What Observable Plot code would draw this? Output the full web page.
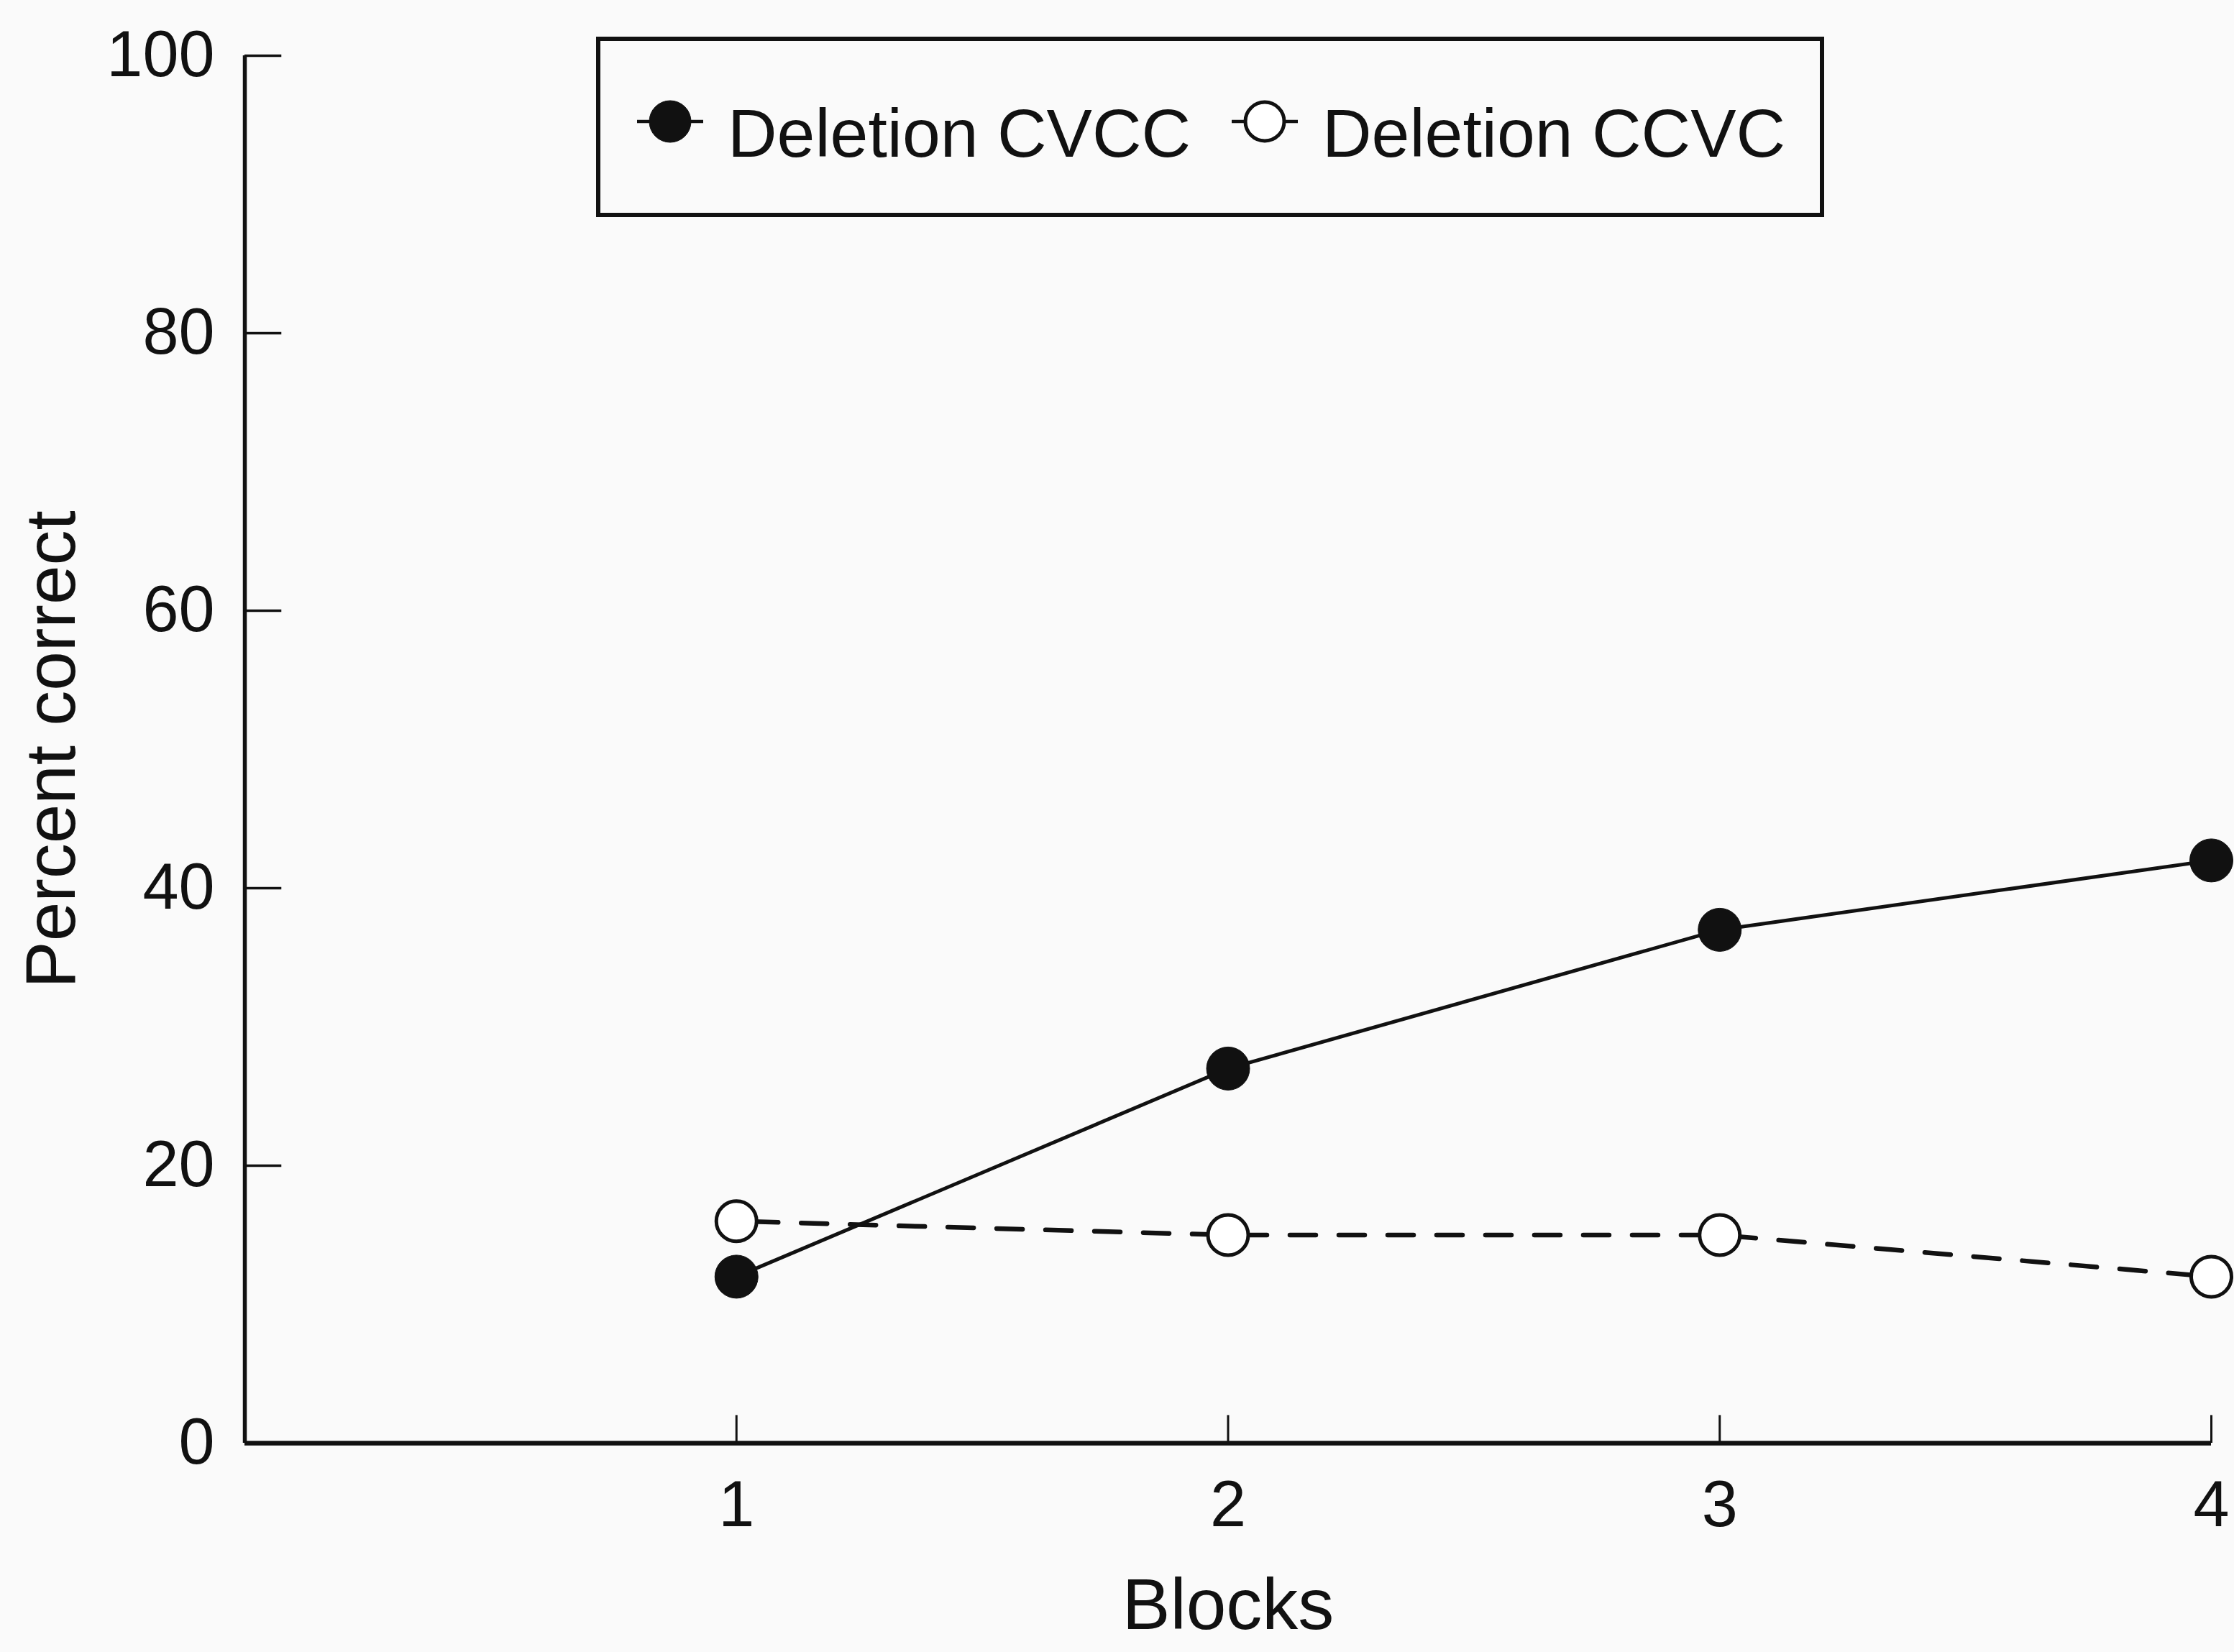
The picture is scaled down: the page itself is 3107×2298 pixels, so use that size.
<!DOCTYPE html>
<html>
<head>
<meta charset="utf-8">
<script src="https://cdn.jsdelivr.net/npm/d3@7"></script>
<script src="https://cdn.jsdelivr.net/npm/@observablehq/plot@0.6"></script>
<style>
  html, body { margin: 0; padding: 0; background: #fafafa; }
  #wrap { position: relative; width: 3107px; height: 2298px; overflow: hidden; }
  #legend { position: absolute; left: 0; top: 0; }
</style>
</head>
<body>
<div id="wrap"></div>
<script>
// ---- data ----
const blocks = [1, 2, 3, 4];
const cvccValues = [12, 27, 37, 42];   // Deletion CVCC (filled circles, solid line)
const ccvcValues = [16, 15, 15, 12];   // Deletion CCVC (open circles, dashed line)
const seriesNames = ["Deletion CVCC", "Deletion CCVC"];
const yTicks = [0, 20, 40, 60, 80, 100];
const xTicks = [1, 2, 3, 4];
const xLabel = "Blocks";
const yLabel = "Percent correct";

const cvcc = blocks.map((b, i) => ({block: b, value: cvccValues[i]}));
const ccvc = blocks.map((b, i) => ({block: b, value: ccvcValues[i]}));

const ink = "#111";
const font = "'Liberation Sans', Arial, Helvetica, sans-serif";

const chart = Plot.plot({
  width: 3107,
  height: 2298,
  marginLeft: 340,
  marginRight: 32,
  marginTop: 77,
  marginBottom: 291,
  style: {background: "transparent", fontFamily: font, color: ink},
  x: {domain: [0, 4]},
  y: {domain: [0, 100]},
  marks: [
    // tick text only; inward ticks drawn separately
    Plot.axisY({ticks: yTicks, tickFormat: d3.format("d"), tickSize: 0, tickPadding: 42, fontSize: 90, label: null}),
    Plot.axisX({ticks: xTicks, tickFormat: d3.format("d"), tickSize: 0, tickPadding: 52, fontSize: 90, label: null}),
    // inward ticks
    Plot.ruleY(yTicks.filter(d => d > 0), {y: d => d, x1: 0, x2: 0.075, stroke: ink, strokeWidth: 3.5}),
    Plot.ruleX(xTicks, {x: d => d, y1: 0, y2: 2, stroke: ink, strokeWidth: 3}),
    // axis lines
    Plot.ruleX([0], {y1: 0, y2: 100, stroke: ink, strokeWidth: 5.5}),
    Plot.ruleY([0], {x1: 0, x2: 4, stroke: ink, strokeWidth: 6.5}),
    // axis titles
    Plot.text([yLabel], {frameAnchor: "left", dx: -268, rotate: -90, fontSize: 98, fill: ink, textAnchor: "middle", lineAnchor: "middle"}),
    Plot.text([xLabel], {frameAnchor: "bottom", dy: 226, fontSize: 100, fill: ink, textAnchor: "middle", lineAnchor: "middle"}),
    // series
    Plot.line(ccvc, {x: "block", y: "value", stroke: ink, strokeWidth: 6.5, strokeDasharray: "36,32", strokeDashoffset: -22}),
    Plot.line(cvcc, {x: "block", y: "value", stroke: ink, strokeWidth: 5}),
    Plot.dot(ccvc, {x: "block", y: "value", r: 28, fill: "white", stroke: ink, strokeWidth: 5}),
    Plot.dot(cvcc, {x: "block", y: "value", r: 30, fill: ink, stroke: ink, strokeWidth: 1})
  ]
});

const wrap = document.getElementById("wrap");
wrap.appendChild(chart);

// ---- legend box (overlay) ----
const ns = "http://www.w3.org/2000/svg";
const leg = document.createElementNS(ns, "svg");
leg.setAttribute("id", "legend");
leg.setAttribute("width", 3107);
leg.setAttribute("height", 360);
leg.style.fontFamily = font;
function el(tag, attrs, text) {
  const e = document.createElementNS(ns, tag);
  for (const k in attrs) e.setAttribute(k, attrs[k]);
  if (text != null) e.textContent = text;
  leg.appendChild(e);
  return e;
}
el("rect", {x: 832, y: 54, width: 1702, height: 245, fill: "none", stroke: ink, "stroke-width": 6});
const items = [
  {cx: 932, text: seriesNames[0], tx: 1012, filled: true},
  {cx: 1759, text: seriesNames[1], tx: 1839, filled: false}
];
for (const it of items) {
  el("line", {x1: it.cx - 46, x2: it.cx + 46, y1: 169, y2: 169, stroke: ink, "stroke-width": 4.5});
  el("circle", {cx: it.cx, cy: 169, r: it.filled ? 29 : 27,
    fill: it.filled ? ink : "white", stroke: ink, "stroke-width": it.filled ? 1 : 5});
  el("text", {x: it.tx, y: 218, "font-size": 95, fill: ink}, it.text);
}
wrap.appendChild(leg);
</script>
</body>
</html>
